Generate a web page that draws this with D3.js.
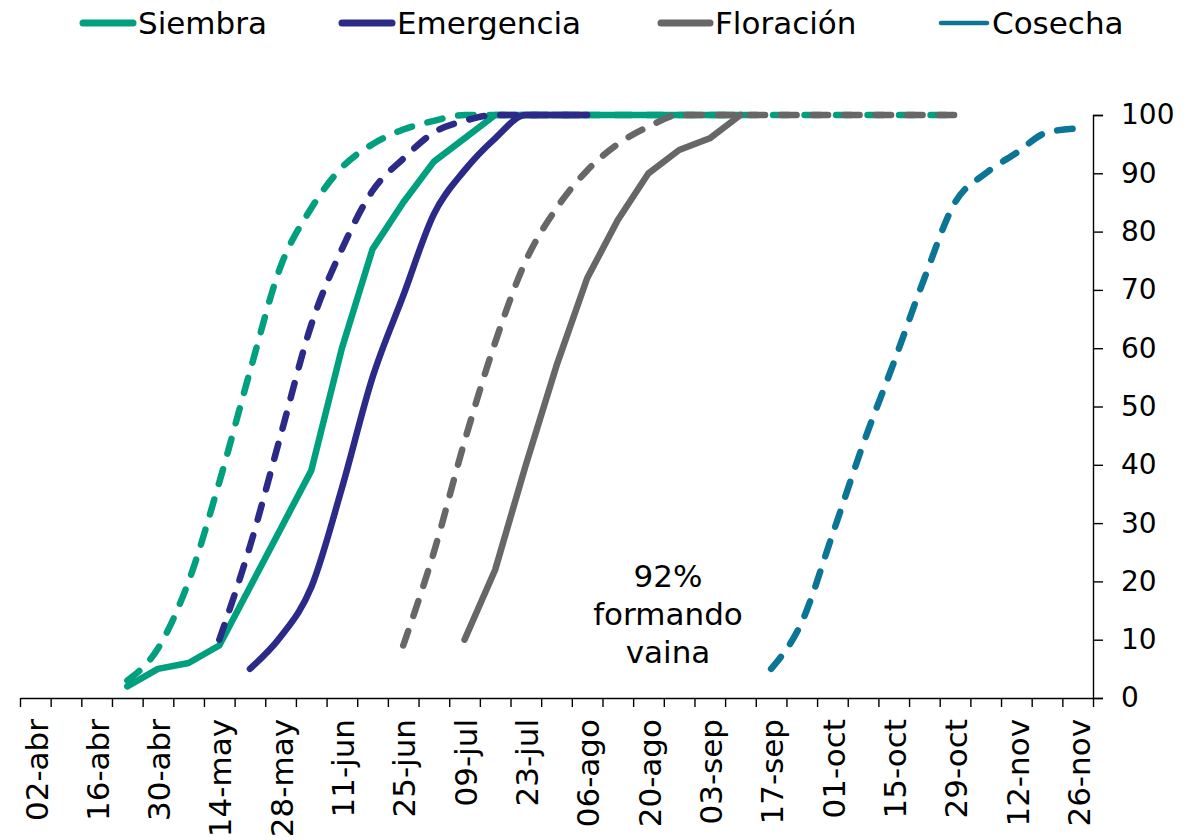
<!DOCTYPE html>
<html>
<head>
<meta charset="utf-8">
<script src="https://cdn.jsdelivr.net/npm/d3@7"></script>
<style>
  html, body { margin: 0; padding: 0; background: #fff; }
  svg { display: block; font-family: "DejaVu Sans", sans-serif; }
</style>
</head>
<body>
<svg id="chart" width="1201" height="840"></svg>
<script>
// ---- Data ----
const weeks = ["02-abr","09-abr","16-abr","23-abr","30-abr","07-may","14-may","21-may","28-may",
  "04-jun","11-jun","18-jun","25-jun","02-jul","09-jul","16-jul","23-jul","30-jul",
  "06-ago","13-ago","20-ago","27-ago","03-sep","10-sep","17-sep","24-sep",
  "01-oct","08-oct","15-oct","22-oct","29-oct","05-nov","12-nov","19-nov","26-nov"];
const yTicks = [0,10,20,30,40,50,60,70,80,90,100];

const legendNames = ["Siembra","Emergencia","Floración","Cosecha"];

const _ = null;
const siembraActual   = [_,_,_,2,5,6,9,19,29,39,60,77,85,92,96,100,100,100,100,100,100,100,100,100,_,_,_,_,_,_,_,_,_,_,_];
const siembraPrevio   = [_,_,_,3,8.5,20,37,56,74,84,91,95,97.5,99,100,100,100,100,100,100,100,100,100,100,100,100,100,100,100,100,100,_,_,_,_];
const emergActual     = [_,_,_,_,_,_,_,5,10.5,19,36,55,69,83,90.5,96,100,100,100,_,_,_,_,_,_,_,_,_,_,_,_,_,_,_,_];
const emergPrevio     = [_,_,_,_,_,_,10,26,45,64,77,87,92.5,97,99,100,100,100,100,_,_,_,_,_,_,_,_,_,_,_,_,_,_,_,_];
const floracionActual = [_,_,_,_,_,_,_,_,_,_,_,_,_,_,10,22,40,57,72,82,90,94,96,100,_,_,_,_,_,_,_,_,_,_,_];
const floracionPrevio = [_,_,_,_,_,_,_,_,_,_,_,_,9,25,44,61,75,84,90.5,95,98,100,100,100,100,100,100,100,100,100,100,_,_,_,_];
const cosechaPrevio   = [_,_,_,_,_,_,_,_,_,_,_,_,_,_,_,_,_,_,_,_,_,_,_,_,5,13,28,43.5,57.5,72,85,90,93.5,97,97.7];

const annotationLines = ["92%","formando","vaina"];

// ---- Styles ----
const colors = { Siembra: "#00A07F", Emergencia: "#2C2A88", "Floración": "#676767", Cosecha: "#0A7596" };

const seriesList = [
  { name: "Siembra",    values: siembraPrevio,   dashed: true,  smooth: true },
  { name: "Siembra",    values: siembraActual,   dashed: false, smooth: false },
  { name: "Emergencia", values: emergPrevio,     dashed: true,  smooth: true },
  { name: "Emergencia", values: emergActual,     dashed: false, smooth: true },
  { name: "Floración",  values: floracionPrevio, dashed: true,  smooth: true },
  { name: "Floración",  values: floracionActual, dashed: false, smooth: false },
  { name: "Cosecha",    values: cosechaPrevio,   dashed: true,  smooth: true }
];

// ---- Layout ----
const svg = d3.select("#chart");
const plotLeft = 20, plotRight = 1093, plotTop = 115, plotBottom = 698;

const x = d3.scaleBand().domain(weeks).range([plotLeft, plotRight]).padding(0);
const xEdge = d3.scaleLinear().domain([0, weeks.length]).range([plotLeft, plotRight]);
const y = d3.scaleLinear().domain([0, 100]).range([plotBottom, plotTop]);
const cx = w => x(w) + x.bandwidth() / 2;

// X axis: boundary ticks
svg.append("g")
  .attr("transform", `translate(0,${plotBottom})`)
  .call(d3.axisBottom(xEdge).tickValues(d3.range(0, weeks.length + 1)).tickFormat("").tickSize(9).tickSizeOuter(0))
  .call(g => g.selectAll("line, path").attr("stroke", "#000").attr("stroke-width", 1.4));

// X axis labels (every second week)
svg.append("g")
  .attr("transform", `translate(0,${plotBottom})`)
  .call(d3.axisBottom(x).tickValues(weeks.filter((w, i) => i % 2 === 0)).tickSize(0))
  .call(g => g.select(".domain").remove())
  .call(g => g.selectAll("text")
    .attr("transform", "rotate(-90)")
    .attr("x", -21).attr("y", 1).attr("dy", "0.36em")
    .attr("text-anchor", "end")
    .attr("font-size", 31)
    .attr("font-family", "DejaVu Sans, sans-serif")
    .attr("fill", "#000"));

// Y axis on right
svg.append("g")
  .attr("transform", `translate(${plotRight},0)`)
  .call(d3.axisRight(y).tickValues(yTicks).tickSize(10).tickPadding(18))
  .call(g => g.selectAll("line, path").attr("stroke", "#000").attr("stroke-width", 1.4))
  .call(g => g.selectAll("text")
    .attr("font-size", 28)
    .attr("font-family", "DejaVu Sans, sans-serif")
    .attr("fill", "#000"));

// Lines
seriesList.forEach(s => {
  const pts = weeks.map((w, i) => ({ w, v: s.values[i] }));
  const line = d3.line()
    .defined(d => d.v !== null)
    .x(d => cx(d.w))
    .y(d => y(d.v))
    .curve(s.smooth ? d3.curveMonotoneX : d3.curveLinear);
  svg.append("path")
    .datum(pts)
    .attr("d", line)
    .attr("fill", "none")
    .attr("stroke", colors[s.name])
    .attr("stroke-width", 6.5)
    .attr("stroke-linecap", "round")
    .attr("stroke-linejoin", "round")
    .attr("stroke-dasharray", s.dashed ? "15.5 16" : null);
});

// Annotation
const ann = svg.append("text")
  .attr("text-anchor", "middle")
  .attr("font-size", 31)
  .attr("fill", "#000");
annotationLines.forEach((t, i) => {
  ann.append("tspan").attr("x", 668).attr("y", 587 + i * 38).text(t);
});

// Legend
const legendX = [80, 339, 658, 938];
const legendW = [56, 56, 55, 52];
const legendSW = [7, 7, 7, 4.5];
legendNames.forEach((n, i) => {
  const g = svg.append("g");
  g.append("line")
    .attr("x1", legendX[i] + 3).attr("x2", legendX[i] + legendW[i] - 3)
    .attr("y1", 23).attr("y2", 23)
    .attr("stroke", colors[n]).attr("stroke-width", legendSW[i])
    .attr("stroke-linecap", "round");
  g.append("text")
    .attr("x", legendX[i] + legendW[i] + 2).attr("y", 34)
    .attr("font-size", 31)
    .attr("fill", "#000")
    .text(n);
});
</script>
</body>
</html>
